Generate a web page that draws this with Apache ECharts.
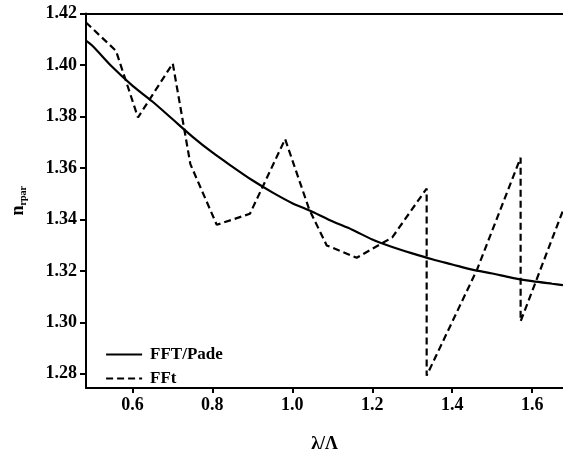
<!DOCTYPE html>
<html>
<head>
<meta charset="utf-8">
<title>n_rpar vs λ/Λ</title>
<script src="https://cdn.jsdelivr.net/npm/echarts@6/dist/echarts.min.js"></script>
<style>
  html, body { margin: 0; padding: 0; background: #fff; }
  #chart { width: 563px; height: 458px; }
</style>
</head>
<body>
<div id="chart"></div>
<script>
// FFT/Pade: smooth curve sampled along λ/Λ
const padeX = [0.484, 0.50, 0.55, 0.60, 0.65, 0.70, 0.75, 0.80, 0.85, 0.90, 0.95, 1.00, 1.05,
               1.10, 1.15, 1.20, 1.25, 1.30, 1.35, 1.40, 1.45, 1.50, 1.55, 1.60, 1.65, 1.677];
const padeY = [1.4095, 1.4075, 1.3992, 1.3920, 1.3858, 1.3790, 1.3722, 1.3660, 1.3605, 1.3552,
               1.3505, 1.3463, 1.3430, 1.3393, 1.3360, 1.3322, 1.3293, 1.3268, 1.3245, 1.3225,
               1.3205, 1.3190, 1.3173, 1.3160, 1.3150, 1.3145];

// FFt: piecewise result, including the two jumps
const fftX = [0.484, 0.559, 0.614, 0.701, 0.745, 0.811, 0.894, 0.982, 1.042, 1.086, 1.161,
              1.250, 1.336, 1.336, 1.462, 1.571, 1.571, 1.677];
const fftY = [1.4165, 1.4055, 1.3796, 1.4006, 1.3615, 1.3379, 1.3422, 1.3712, 1.3440, 1.3299,
              1.3251, 1.3330, 1.3520, 1.2793, 1.3205, 1.3640, 1.3004, 1.3435];

const xTicks = [0.6, 0.8, 1.0, 1.2, 1.4, 1.6];
const yTicks = [1.28, 1.30, 1.32, 1.34, 1.36, 1.38, 1.40, 1.42];

const seriesNames = ['FFT/Pade', 'FFt'];

const FONT = '"Liberation Serif", "Times New Roman", serif';

const zip = (xs, ys) => xs.map((x, i) => [x, ys[i]]);

const chart = echarts.init(document.getElementById('chart'), null, { renderer: 'canvas' });

chart.setOption({
  animation: false,
  backgroundColor: '#fff',
  grid: { left: 86, right: 0, top: 13.5, bottom: 65.3, containLabel: false },
  legend: {
    left: 105,
    top: 346,
    padding: 0,
    orient: 'vertical',
    itemWidth: 36,
    itemHeight: 14,
    itemGap: 7,
    itemStyle: { opacity: 0, borderWidth: 0 },
    lineStyle: { color: '#000', width: 2.2 },
    textStyle: { fontFamily: FONT, fontWeight: 'bold', fontSize: 17, color: '#000', padding: [0, 0, 0, 3] },
    data: seriesNames
  },
  xAxis: [{
    type: 'value',
    min: 0.484,
    max: 1.677,
    name: 'λ/Λ',
    nameLocation: 'middle',
    nameGap: 47,
    nameTextStyle: { fontFamily: FONT, fontWeight: 'bold', fontSize: 18, color: '#000' },
    axisLine: { show: true, onZero: false, lineStyle: { color: '#000', width: 2 } },
    axisTick: { show: true, length: 5, inside: false, customValues: xTicks, lineStyle: { color: '#000', width: 2 } },
    axisLabel: {
      customValues: xTicks,
      margin: 8,
      fontFamily: FONT, fontWeight: 'bold', fontSize: 18, color: '#000',
      formatter: v => v.toFixed(1)
    },
    splitLine: { show: false }
  }, {
    // top border of the plot
    type: 'value',
    position: 'top',
    min: 0.484,
    max: 1.677,
    axisLine: { show: true, onZero: false, lineStyle: { color: '#000', width: 2 } },
    axisTick: { show: false },
    axisLabel: { show: false },
    splitLine: { show: false }
  }],
  yAxis: {
    type: 'value',
    min: 1.2745,
    max: 1.42,
    name: '{n|n}{s|rpar}',
    nameLocation: 'middle',
    nameGap: 58,
    nameRotate: 90,
    nameTextStyle: {
      rich: {
        n: { fontFamily: FONT, fontWeight: 'bold', fontSize: 18, color: '#000' },
        s: { fontFamily: FONT, fontWeight: 'bold', fontSize: 10, color: '#000', padding: [9, 0, 0, 0] }
      }
    },
    axisLine: { show: true, onZero: false, lineStyle: { color: '#000', width: 2 } },
    axisTick: { show: true, length: 6, inside: false, customValues: yTicks, lineStyle: { color: '#000', width: 2 } },
    axisLabel: {
      customValues: yTicks,
      margin: 9,
      fontFamily: FONT, fontWeight: 'bold', fontSize: 18, color: '#000',
      formatter: v => v.toFixed(2)
    },
    splitLine: { show: false }
  },
  series: [{
    name: seriesNames[0],
    type: 'line',
    data: zip(padeX, padeY),
    smooth: 0.3,
    symbol: 'none',
    clip: true,
    lineStyle: { color: '#000', width: 2.2, type: 'solid' },
    itemStyle: { color: '#000' }
  }, {
    name: seriesNames[1],
    type: 'line',
    data: zip(fftX, fftY),
    symbol: 'none',
    clip: true,
    lineStyle: { color: '#000', width: 2.2, type: [7, 4] },
    itemStyle: { color: '#000' }
  }]
});
</script>
</body>
</html>
